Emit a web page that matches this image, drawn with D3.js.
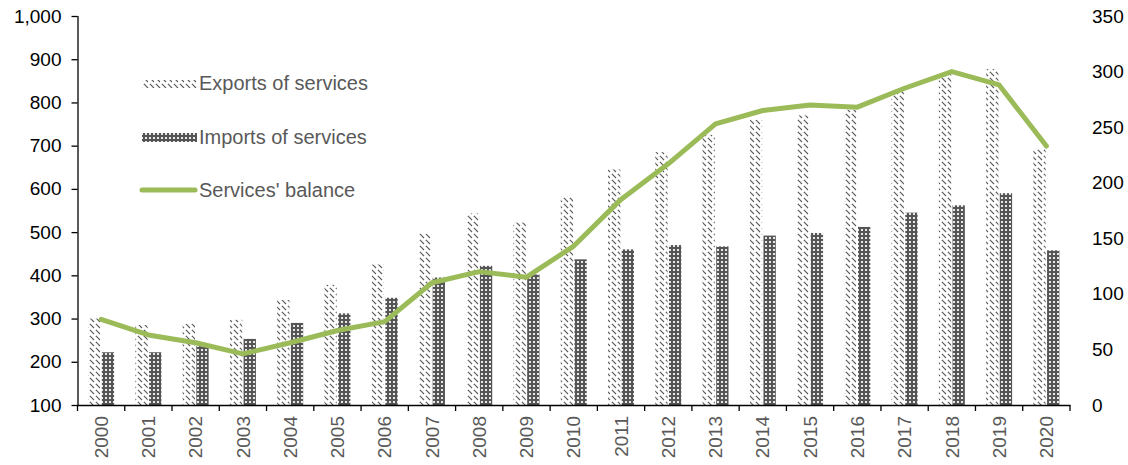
<!DOCTYPE html>
<html>
<head>
<meta charset="utf-8">
<script src="https://cdn.jsdelivr.net/npm/d3@7"></script>
<style>
  html, body { margin: 0; padding: 0; background: #fff; }
  svg { display: block; font-family: "Liberation Sans", Arial, sans-serif; }
</style>
</head>
<body>
<svg id="chart" width="1128" height="465"></svg>
<script>
// Services trade, 2000-2020
const years = ["2000","2001","2002","2003","2004","2005","2006","2007","2008","2009","2010",
               "2011","2012","2013","2014","2015","2016","2017","2018","2019","2020"];
const exportsOfServices = [300, 285, 288, 297, 343, 378, 425, 497, 543, 522, 583,
                           645, 685, 725, 760, 770, 783, 826, 866, 877, 693];
const importsOfServices = [222, 222, 237, 253, 290, 312, 348, 395, 422, 402, 437,
                           460, 470, 467, 492, 498, 512, 545, 562, 590, 458];
const servicesBalance   = [77, 63, 56, 46, 56, 67, 75, 110, 120, 115, 143,
                           185, 217, 253, 265, 270, 268, 285, 300, 288, 233];
const leftTicks  = [100, 200, 300, 400, 500, 600, 700, 800, 900, 1000];
const rightTicks = [0, 50, 100, 150, 200, 250, 300, 350];
const seriesNames = ["Exports of services", "Imports of services", "Services' balance"];

const svg = d3.select("#chart");
const plotLeft = 77.5, plotRight = 1070, plotTop = 16, plotBottom = 405;

const x = d3.scaleBand().domain(years).range([plotLeft, plotRight]).paddingInner(0.45).paddingOuter(0.225);
const xCat = d3.scaleBand().domain(years).range([plotLeft, plotRight]);
const sub = d3.scaleBand().domain(["exp", "imp"]).range([0, x.bandwidth()]).paddingInner(0.1);
const yL = d3.scaleLinear().domain([100, 1000]).range([plotBottom, plotTop]);
const yR = d3.scaleLinear().domain([0, 350]).range([plotBottom, plotTop]);

// fill patterns: dashed downward diagonal for exports, fine grid for imports
const defs = svg.append("defs");
const pExp = defs.append("pattern").attr("id", "hatchExp").attr("patternUnits", "userSpaceOnUse")
  .attr("width", 6).attr("height", 6);
pExp.append("rect").attr("width", 6).attr("height", 6).attr("fill", "#fff");
pExp.append("path").attr("d", "M0,0 L4,4 M5,-1 L7,1 M-1,5 L1,7")
  .attr("stroke", "#5a5a5a").attr("stroke-width", 1.1).attr("fill", "none");

const pImp = defs.append("pattern").attr("id", "gridImp").attr("patternUnits", "userSpaceOnUse")
  .attr("width", 4).attr("height", 4);
pImp.append("rect").attr("width", 4).attr("height", 4).attr("fill", "#555");
pImp.append("rect").attr("x", 1).attr("y", 1).attr("width", 2).attr("height", 2).attr("fill", "#e8e8e8");

const fontSize = 19;

// bars
svg.append("g").selectAll("rect").data(years).join("rect")
  .attr("x", d => x(d) + sub("exp"))
  .attr("y", (d, i) => yL(exportsOfServices[i]))
  .attr("width", sub.bandwidth())
  .attr("height", (d, i) => yL(100) - yL(exportsOfServices[i]))
  .attr("fill", "url(#hatchExp)");

svg.append("g").selectAll("rect").data(years).join("rect")
  .attr("x", d => x(d) + sub("imp"))
  .attr("y", (d, i) => yL(importsOfServices[i]))
  .attr("width", sub.bandwidth())
  .attr("height", (d, i) => yL(100) - yL(importsOfServices[i]))
  .attr("fill", "url(#gridImp)");

// balance line on the secondary axis
const line = d3.line()
  .x((d, i) => xCat(years[i]) + xCat.bandwidth() / 2)
  .y(d => yR(d));
svg.append("path").datum(servicesBalance)
  .attr("d", line)
  .attr("fill", "none").attr("stroke", "#9BBB59")
  .attr("stroke-width", 5).attr("stroke-linejoin", "round").attr("stroke-linecap", "round");

// left axis
const gL = svg.append("g").attr("transform", `translate(${plotLeft},0)`)
  .call(d3.axisLeft(yL).tickValues(leftTicks).tickSize(6).tickPadding(10).tickFormat(d3.format(",")));
gL.selectAll("text").attr("font-size", fontSize).attr("fill", "#000").attr("font-family", null);
gL.selectAll("line, path").attr("stroke", "#000").attr("stroke-width", 1.3);
gL.select(".domain").attr("d", `M0.5,${plotTop}V${plotBottom}`);

// right axis (labels only)
const gR = svg.append("g").attr("transform", `translate(${plotRight},0)`)
  .call(d3.axisRight(yR).tickValues(rightTicks).tickSize(0).tickPadding(22));
gR.select(".domain").remove();
gR.selectAll("text").attr("font-size", fontSize).attr("fill", "#000").attr("font-family", null);

// category axis
const gX = svg.append("g").attr("transform", `translate(0,${plotBottom})`)
  .call(d3.axisBottom(xCat).tickSize(0).tickPadding(0));
gX.select(".domain").attr("stroke", "#000").attr("stroke-width", 1.3);
gX.selectAll("text")
  .attr("font-size", fontSize).attr("fill", "#595959").attr("font-family", null)
  .attr("transform", "rotate(-90)")
  .attr("text-anchor", "end").attr("dy", "0.35em")
  .attr("x", -11).attr("y", 0);
// boundary ticks between categories
const bounds = years.map(d => xCat(d)).concat([plotRight]);
svg.append("g").selectAll("line").data(bounds).join("line")
  .attr("x1", d => d).attr("x2", d => d)
  .attr("y1", plotBottom).attr("y2", plotBottom + 6)
  .attr("stroke", "#000").attr("stroke-width", 1.3);

// legend
const lg = svg.append("g");
lg.append("rect").attr("x", 142).attr("y", 80).attr("width", 55).attr("height", 8).attr("fill", "url(#hatchExp)");
lg.append("rect").attr("x", 142).attr("y", 133).attr("width", 55).attr("height", 9).attr("fill", "url(#gridImp)");
lg.append("line").attr("x1", 142).attr("x2", 195).attr("y1", 190).attr("y2", 190)
  .attr("stroke", "#9BBB59").attr("stroke-width", 5).attr("stroke-linecap", "round");
const ly = [90, 144, 197];
lg.selectAll("text").data(seriesNames).join("text")
  .attr("x", 199).attr("y", (d, i) => ly[i])
  .attr("font-size", 20).attr("fill", "#595959")
  .text(d => d);
</script>
</body>
</html>
